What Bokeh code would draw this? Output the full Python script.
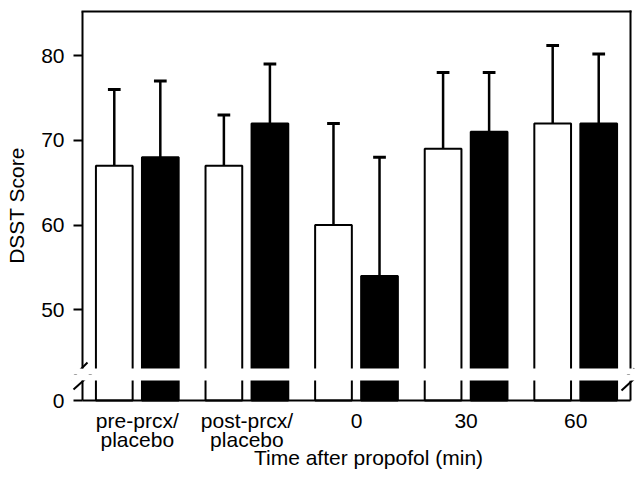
import numpy as np
from bokeh.plotting import figure
from bokeh.layouts import column
from bokeh.models import Range1d, FixedTicker, LinearAxis, Label, BoxAnnotation
from bokeh.embed import file_html
from bokeh.resources import INLINE

# ---- data -------------------------------------------------------------
groups = ["pre-prcx/\nplacebo", "post-prcx/\nplacebo", "0", "30", "60"]
open_mean = [67, 67, 60, 69, 72]
open_sd = [9, 6, 12, 9, 9.2]
filled_mean = [68, 72, 54, 71, 72]
filled_sd = [9, 7, 14, 7, 8.2]
upper_ticks = [50, 60, 70, 80]
lower_ticks = [0]
x_title = "Time after propofol (min)"
y_title = "DSST Score"

# ---- geometry (page pixels) -----------------------------------------
FONT = "Liberation Sans"
FS = "21px"
W = 635
H = 478
AX_LEFT = 82          # left axis line
AX_RIGHT = 630        # right frame line
FRAME_TOP = 11        # top frame line
GAP_TOP = 368         # axis break: upper segment ends
GAP_BOT = 380         # axis break: lower segment starts
SPLIT = 374           # where the upper canvas ends and the lower one begins
AX_BOTTOM = 400       # x axis line

GROUP_PX = (AX_RIGHT - AX_LEFT) / len(groups)
UNIT_PX = 8.477                       # pixels per score unit
Y_FRAME_TOP = 85.2                    # score at the top frame line

# data ranges of the two panels (each panel's frame fills its canvas)
X0 = -0.5 - AX_LEFT / GROUP_PX
X1 = X0 + W / GROUP_PX
Y1_TOP = Y_FRAME_TOP + FRAME_TOP / UNIT_PX
Y1_BOT = Y1_TOP - SPLIT / UNIT_PX
Y_BREAK = Y1_TOP - GAP_TOP / UNIT_PX
Y2_TOP = (AX_BOTTOM - SPLIT) / UNIT_PX
Y2_BOT = Y2_TOP - (H - SPLIT) / UNIT_PX
Y2_BREAK = (AX_BOTTOM - GAP_BOT) / UNIT_PX
# bars are cut inside the white break band
Y1_CUT = Y1_TOP - (SPLIT - 3) / UNIT_PX
Y2_CUT = Y2_TOP - 3 / UNIT_PX
XL, XR = -0.5, len(groups) - 0.5

OFF = 0.21
BAR_W = 0.335
CAP = 0.058

x = np.arange(len(groups))
x_open = x - OFF
x_filled = x + OFF
open_top = np.array(open_mean) + np.array(open_sd)
filled_top = np.array(filled_mean) + np.array(filled_sd)


def panel(height, y0, y1):
    f = figure(width=W, height=height, x_range=Range1d(X0, X1),
               y_range=Range1d(y0, y1), output_backend="svg",
               toolbar_location=None, outline_line_color=None,
               x_axis_location=None, y_axis_location=None,
               background_fill_color="white", border_fill_color="white",
               min_border=0, min_border_left=0, min_border_right=0,
               min_border_top=0, min_border_bottom=0)
    f.grid.visible = False
    return f


def y_axis(f, ticks, bounds):
    ax = LinearAxis(fixed_location=XL, bounds=bounds,
                    ticker=FixedTicker(ticks=ticks))
    ax.minor_tick_line_color = None
    ax.major_tick_in = 0
    ax.major_tick_out = 9
    ax.major_tick_line_width = 2
    ax.axis_line_width = 2
    ax.major_label_standoff = 9
    ax.major_label_text_font = FONT
    ax.major_label_text_font_size = FS
    ax.major_label_text_color = "black"
    f.add_layout(ax, "left")


def draw_bars(f, top_a, top_b, bottom):
    f.vbar(x=x_open, top=top_a, bottom=bottom, width=BAR_W,
           fill_color="white", line_color="black", line_width=2)
    f.vbar(x=x_filled, top=top_b, bottom=bottom, width=BAR_W,
           fill_color="black", line_color="black", line_width=2)


def break_band(f, top=None, bottom=None):
    # white band of the axis break, painted over the bars
    f.add_layout(BoxAnnotation(top=top, bottom=bottom, fill_color="white",
                               fill_alpha=1.0, line_color=None, level="glyph"))


def px_x(px):
    return X0 + px / GROUP_PX


# axis-break marks, page pixels: ((x0, y0), (x1, y1))
breaks = [
    ((AX_LEFT - 12, GAP_BOT - 1), (AX_LEFT + 5, GAP_TOP - 6)),
    ((AX_LEFT - 9, GAP_BOT + 9), (AX_LEFT + 10, GAP_TOP + 4)),
    ((AX_RIGHT - 7, GAP_BOT - 1), (AX_RIGHT + 4, GAP_TOP)),
    ((AX_RIGHT - 9, GAP_BOT + 10), (AX_RIGHT + 4, GAP_BOT - 2)),
]


def draw_breaks(f, top_px, y_top):
    to_y = lambda py: y_top - (py - top_px) / UNIT_PX
    f.segment(x0=[px_x(a[0]) for a, b in breaks], y0=[to_y(a[1]) for a, b in breaks],
              x1=[px_x(b[0]) for a, b in breaks], y1=[to_y(b[1]) for a, b in breaks],
              line_color="black", line_width=2)


# ---- upper panel (scores 50-80) -------------------------------------
p1 = panel(SPLIT, Y1_BOT, Y1_TOP)
draw_bars(p1, open_mean, filled_mean, Y1_CUT)
for xs, mean, top in ((x_open, open_mean, open_top), (x_filled, filled_mean, filled_top)):
    p1.segment(x0=xs, y0=mean, x1=xs, y1=top, line_color="black", line_width=2.5)
    p1.segment(x0=xs - CAP, y0=top, x1=xs + CAP, y1=top, line_color="black", line_width=3)
# top and right frame lines
p1.segment(x0=[XL, XR], y0=[Y_FRAME_TOP, Y_FRAME_TOP], x1=[XR, XR], y1=[Y_FRAME_TOP, Y_BREAK],
           line_color="black", line_width=2, line_cap="square")
break_band(p1, top=Y_BREAK)
y_axis(p1, upper_ticks, (Y_BREAK, Y_FRAME_TOP))
draw_breaks(p1, 0, Y1_TOP)
p1.add_layout(Label(x=px_x(16), y=Y1_TOP - 205 / UNIT_PX, text=y_title,
                    angle=np.pi / 2, text_align="center", text_baseline="middle",
                    text_font=FONT, text_font_size=FS, text_color="black"))

# ---- lower panel (score 0) ------------------------------------------
p2 = panel(H - SPLIT, Y2_BOT, Y2_TOP)
draw_bars(p2, np.minimum(open_mean, Y2_CUT), np.minimum(filled_mean, Y2_CUT), 0)
p2.segment(x0=[XR], y0=[0], x1=[XR], y1=[Y2_BREAK], line_color="black", line_width=2)
break_band(p2, bottom=Y2_BREAK)
y_axis(p2, lower_ticks, (0, Y2_BREAK))
xa = LinearAxis(fixed_location=0, bounds=(XL, XR), ticker=FixedTicker(ticks=list(x)))
xa.major_label_overrides = {int(i): g for i, g in zip(x, groups)}
xa.major_tick_line_color = None
xa.major_tick_out = 0
xa.major_tick_in = 0
xa.minor_tick_line_color = None
xa.axis_line_width = 2
xa.major_label_standoff = 8
xa.major_label_text_font = FONT
xa.major_label_text_font_size = FS
xa.major_label_text_line_height = 0.85
xa.major_label_text_color = "black"
p2.add_layout(xa, "below")
draw_breaks(p2, SPLIT, Y2_TOP)
p2.add_layout(Label(x=px_x(368), y=Y2_TOP - (457 - SPLIT) / UNIT_PX, text=x_title,
                    text_align="center", text_baseline="middle",
                    text_font=FONT, text_font_size=FS, text_color="black"))

layout = column(p1, p2, spacing=0)
open("out.html", "w").write(file_html(layout, INLINE))
